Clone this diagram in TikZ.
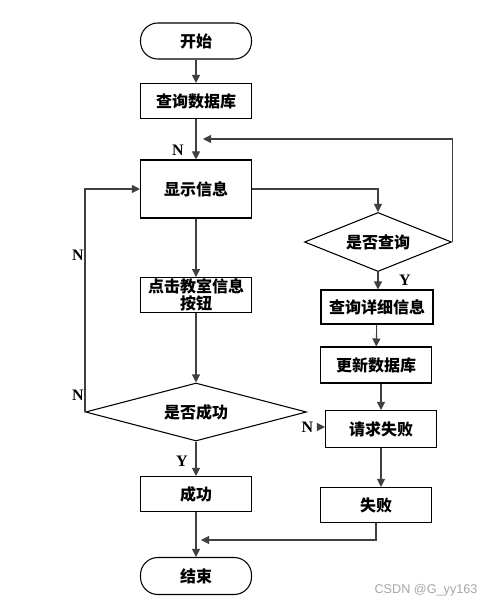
\documentclass[tikz,border=0pt]{standalone}
\usepackage{fontspec}
\setmainfont{Liberation Serif}
\newfontfamily\cjk{Noto Sans CJK SC}
\newfontfamily\wmfont{Liberation Sans}
\usepackage{tikz}
\usetikzlibrary{arrows.meta,positioning,shapes.geometric,calc}

\begin{document}
\begin{tikzpicture}[
		x=0.75pt, y=-0.75pt,
		font=\cjk\bfseries\fontsize{12}{14}\selectfont,
		>={Triangle[length=6pt,width=6pt]},
		termblock/.style={draw, line width=0.8pt, rounded corners=13pt, minimum width=83.25pt, minimum height=27pt, align=center},
		procblock/.style={draw, line width=0.8pt, minimum width=83.25pt, minimum height=26.25pt, inner sep=1pt, align=center},
		decblock/.style={draw, line width=0.8pt, diamond, aspect=3.8, inner sep=0pt, align=center},
		arrow/.style={line width=0.8pt, black!75, ->},
		yn/.style={font=\rmfamily\bfseries\fontsize{12}{14}\selectfont}
		]
		\useasboundingbox (0,0) rectangle (487,606);

		% left column
		\node[termblock] (start) at (196,41) {开始};
		\node[procblock] (query) at (196,101) {查询数据库};
		\node[procblock, minimum height=43.5pt] (show) at (196,189) {显示信息};
		\node[procblock, minimum height=25.5pt, text width=80pt, font=\cjk\bfseries\fontsize{12}{12.5}\selectfont] (click) at (196,295) {点击教室信息\\按钮};
		\node[decblock, minimum width=165.75pt, minimum height=43.5pt] (succq) at (196,412) {是否成功};
		\node[procblock] (success) at (196,494) {成功};
		\node[termblock, minimum height=27.75pt] (end) at (196,576) {结束};

		% right column
		\node[decblock, minimum width=110.25pt, minimum height=44.25pt] (askq) at (378,242) {是否查询};
		\node[procblock, minimum width=84pt, minimum height=25.5pt] (detail) at (377,307) {查询详细信息};
		\node[procblock, minimum height=27pt] (update) at (376,365) {更新数据库};
		\node[procblock, minimum height=27.75pt] (reqfail) at (381,429) {请求失败};
		\node[procblock] (fail) at (376,505) {失败};

		\coordinate (loopin) at (203,139);
		\coordinate (nin) at (318,427);
		\coordinate (mergein) at (201,540);

		\draw[arrow] (start) -- (query);
		\draw[arrow] (query) -- (show);
		\draw[arrow] (askq.east) |- (loopin);
		\draw[arrow] (show.east) -| (askq.north);
		\draw[arrow] (show) -- (click);
		\draw[arrow] (click) -- (succq.north);
		\draw[arrow] (succq.west) |- (show.west);
		\draw[arrow] (succq.south) -- (success);
		\draw[arrow] (success) -- (end);
		\draw[arrow] (askq.south) -- (askq.south |- detail.north);
		\draw[arrow] (detail) -- (update);
		\draw[arrow] (update.south -| reqfail) -- (reqfail);
		\draw[arrow] (reqfail) -- (reqfail |- fail.north);
		\draw[arrow] (nin) -- (nin -| reqfail.west);
		\draw[arrow] (fail.south) |- (mergein);

		\node[yn] (n1) at (178,150) {N};
		\node[yn] (n2) at (78,255) {N};
		\node[yn] (n3) at (78,395) {N};
		\node[yn, left=0pt of nin] (n4) {N};
		\node[yn] (y1) at (182,461) {Y};
		\node[yn] (y2) at (405,280) {Y};

		\node[font=\wmfont\fontsize{9.5}{11}\selectfont, text=black!35] (mark) at (426,590) {CSDN @G\_yy163};
	\end{tikzpicture}
\end{document}
